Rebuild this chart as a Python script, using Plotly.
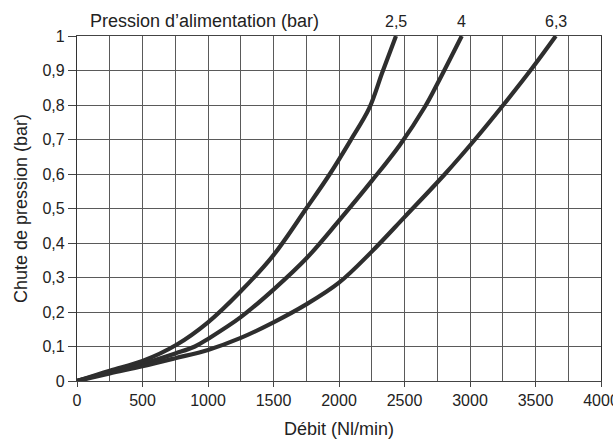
import plotly.graph_objects as go

# Flow rate (Nl/min) vs pressure drop (bar) for three supply pressures
supply_labels = ["2,5", "4", "6,3"]

flow_25 = [0, 250, 500, 760, 1000, 1250, 1500, 1750, 1930, 2092, 2230, 2331, 2435]
drop_25 = [0, 0.03, 0.058, 0.105, 0.17, 0.26, 0.365, 0.5, 0.6, 0.7, 0.79, 0.895, 1.0]

flow_4 = [0, 250, 500, 750, 900, 1000, 1250, 1500, 1750, 2000, 2250, 2466, 2656, 2746, 2937]
drop_4 = [0, 0.026, 0.05, 0.08, 0.1, 0.122, 0.185, 0.265, 0.355, 0.465, 0.58, 0.685, 0.795, 0.858, 1.0]

flow_63 = [0, 250, 500, 750, 1000, 1250, 1500, 1750, 2000, 2250, 2500, 2809, 3038, 3254, 3471, 3655]
drop_63 = [0, 0.022, 0.043, 0.066, 0.09, 0.125, 0.17, 0.222, 0.285, 0.375, 0.475, 0.6, 0.7, 0.8, 0.905, 1.0]

x_tick_vals = [0, 500, 1000, 1500, 2000, 2500, 3000, 3500, 4000]
x_tick_text = ["0", "500", "1000", "1500", "2000", "2500", "3000", "3500", "4000"]
y_tick_vals = [0, 0.1, 0.2, 0.3, 0.4, 0.5, 0.6, 0.7, 0.8, 0.9, 1.0]
y_tick_text = ["0", "0,1", "0,2", "0,3", "0,4", "0,5", "0,6", "0,7", "0,8", "0,9", "1"]

series = [(flow_25, drop_25), (flow_4, drop_4), (flow_63, drop_63)]

FONT = "Liberation Sans, Arial, sans-serif"
LINE = "#2e2e2e"
GRID = "#5a5a5a"
TEXT = "#222222"

fig = go.Figure()
for (fx, fy), name in zip(series, supply_labels):
    fig.add_trace(go.Scatter(
        x=fx, y=fy, mode="lines", name=name,
        line=dict(color=LINE, width=4.2, shape="spline", smoothing=1.0),
        showlegend=False,
    ))

# Supply pressure labels above each curve end
for (fx, fy), name in zip(series, supply_labels):
    fig.add_annotation(
        x=fx[-1], y=1, xref="x", yref="paper", text=name, showarrow=False,
        yanchor="middle", yshift=15, font=dict(family=FONT, size=16, color=TEXT),
    )

fig.add_annotation(
    x=0.021, y=1, xref="paper", yref="paper", text="Pression d’alimentation (bar)",
    showarrow=False, xanchor="left", yanchor="middle", yshift=15,
    font=dict(family=FONT, size=18, color=TEXT),
)

fig.update_layout(
    width=613, height=443,
    margin=dict(l=77, r=12, t=36, b=62),
    paper_bgcolor="white", plot_bgcolor="white",
    font=dict(family=FONT, size=16, color=TEXT),
    xaxis=dict(
        range=[0, 4000], tickvals=x_tick_vals, ticktext=x_tick_text,
        showgrid=True, gridcolor=GRID, gridwidth=1.2,
        minor=dict(dtick=250, showgrid=True, gridcolor=GRID, gridwidth=1.2),
        ticks="outside", ticklen=5, tickcolor="#444", tickwidth=1,
        showline=True, linecolor="#444", linewidth=1.2, mirror=True,
        zeroline=False, ticklabeloverflow="allow", automargin=False,
        title=dict(text="Débit (Nl/min)", font=dict(family=FONT, size=18), standoff=14),
        tickfont=dict(family=FONT, size=16),
    ),
    yaxis=dict(
        range=[0, 1], tickvals=y_tick_vals, ticktext=y_tick_text,
        showgrid=True, gridcolor=GRID, gridwidth=1.2,
        ticks="outside", ticklen=8, tickcolor="#444", tickwidth=1,
        showline=True, linecolor="#333", linewidth=1.2, mirror=True,
        zeroline=False, automargin=False,
        title=dict(text="Chute de pression (bar)", font=dict(family=FONT, size=18), standoff=10),
        tickfont=dict(family=FONT, size=16),
    ),
)

fig.write_html("out.html")
